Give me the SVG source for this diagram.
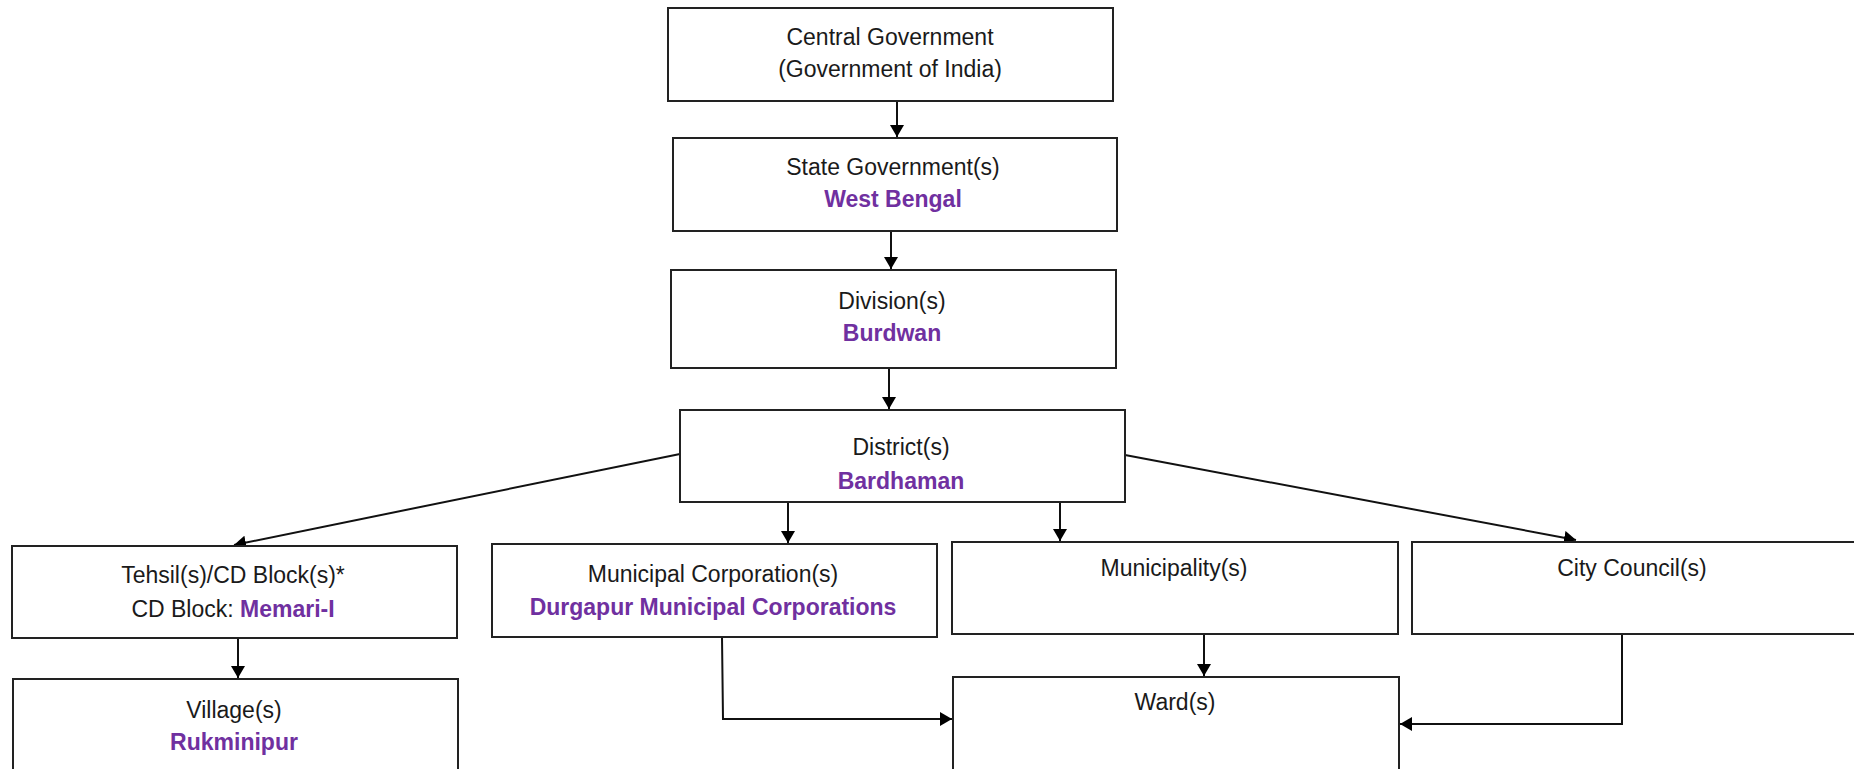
<svg xmlns="http://www.w3.org/2000/svg" width="1854" height="769" viewBox="0 0 1854 769">
<style>
.box{fill:#fff;stroke:#222;stroke-width:2}
text{font-family:"Liberation Sans",Arial,sans-serif;font-size:23px;fill:#1a1a1a;text-anchor:middle}
.p{fill:#7030A0;font-weight:bold}
.c{stroke:#111;stroke-width:2;fill:none}
</style>
<defs>
<marker id="ah" markerUnits="userSpaceOnUse" markerWidth="14" markerHeight="14" refX="12" refY="7" orient="auto">
<path d="M0,0 L12,7 L0,14 z" fill="#000"/>
</marker>
</defs>
<rect width="1854" height="769" fill="#fff"/>
<g id="connectors">
<line class="c" x1="897" y1="101" x2="897" y2="137" marker-end="url(#ah)"/>
<line class="c" x1="891" y1="231" x2="891" y2="269" marker-end="url(#ah)"/>
<line class="c" x1="889" y1="368" x2="889" y2="409" marker-end="url(#ah)"/>
<line class="c" x1="680" y1="454" x2="234" y2="545" marker-end="url(#ah)"/>
<line class="c" x1="788" y1="502" x2="788" y2="543" marker-end="url(#ah)"/>
<line class="c" x1="1060" y1="502" x2="1060" y2="541" marker-end="url(#ah)"/>
<line class="c" x1="1125" y1="455" x2="1576" y2="540" marker-end="url(#ah)"/>
<line class="c" x1="238" y1="638" x2="238" y2="678" marker-end="url(#ah)"/>
<line class="c" x1="1204" y1="634" x2="1204" y2="676" marker-end="url(#ah)"/>
<polyline class="c" points="722,637 723,719 952,719" marker-end="url(#ah)"/>
<polyline class="c" points="1622,634 1622,724 1400,724" marker-end="url(#ah)"/>
</g>
<g id="central"><rect class="box" x="668" y="8" width="445" height="93"/>
<text x="890" y="45">Central Government</text><text x="890" y="77">(Government of India)</text></g>
<g id="state"><rect class="box" x="673" y="138" width="444" height="93"/>
<text x="893" y="175">State Government(s)</text><text class="p" x="893" y="207">West Bengal</text></g>
<g id="division"><rect class="box" x="671" y="270" width="445" height="98"/>
<text x="892" y="309">Division(s)</text><text class="p" x="892" y="341">Burdwan</text></g>
<g id="district"><rect class="box" x="680" y="410" width="445" height="92"/>
<text x="901" y="455">District(s)</text><text class="p" x="901" y="489">Bardhaman</text></g>
<g id="tehsil"><rect class="box" x="12" y="546" width="445" height="92"/>
<text x="233" y="583">Tehsil(s)/CD Block(s)*</text><text x="233" y="617">CD Block: <tspan class="p">Memari-I</tspan></text></g>
<g id="village"><rect class="box" x="13" y="679" width="445" height="100"/>
<text x="234" y="718">Village(s)</text><text class="p" x="234" y="750">Rukminipur</text></g>
<g id="municipal-corporation"><rect class="box" x="492" y="544" width="445" height="93"/>
<text x="713" y="582">Municipal Corporation(s)</text><text class="p" x="713" y="615">Durgapur Municipal Corporations</text></g>
<g id="municipality"><rect class="box" x="952" y="542" width="446" height="92"/>
<text x="1174" y="576">Municipality(s)</text></g>
<g id="city-council"><rect class="box" x="1412" y="542" width="450" height="92"/>
<text x="1632" y="576">City Council(s)</text></g>
<g id="ward"><rect class="box" x="953" y="677" width="446" height="100"/>
<text x="1175" y="710">Ward(s)</text></g>
</svg>
